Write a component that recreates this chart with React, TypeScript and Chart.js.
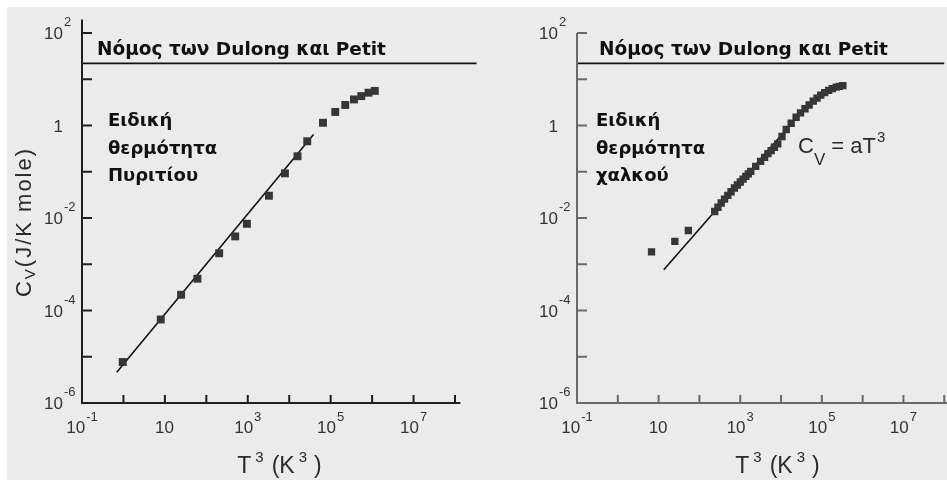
import React, { useEffect, useRef } from "react";
import { Chart, registerables } from "chart.js";

Chart.register(...registerables);

// ---------- data ----------
const siliconT3 = [0.96, 7.96, 24.6, 61, 204, 497, 951, 3240, 7870, 15850, 27200, 65200, 129000, 225000, 365000, 548000, 822000, 1160000];
const siliconCv = [7.7e-6, 6.4e-5, 2.19e-4, 4.87e-4, 1.73e-3, 4.0e-3, 7.5e-3, 0.0303, 0.0923, 0.216, 0.456, 1.145, 1.96, 2.78, 3.66, 4.32, 5.12, 5.6];
const siliconFitT3 = [0.69, 38600];
const siliconFitCv = [4.6e-6, 0.64];

const copperT3 = [6.7, 25, 53.6, 237, 284, 342, 413, 497, 596, 719, 851, 1004, 1175, 1374, 1578, 1812, 2393, 3162, 3953, 4775, 5730, 6890, 8320, 10570, 13430, 17740, 23440, 30060, 38640, 48870, 61660, 76200, 94000, 117500, 146900, 180300, 225000, 270400, 327000];
const copperCv = [1.85e-3, 3.12e-3, 5.36e-3, 0.0138, 0.0171, 0.0211, 0.0255, 0.0308, 0.037, 0.0446, 0.0517, 0.0601, 0.0691, 0.0795, 0.09, 0.102, 0.131, 0.168, 0.205, 0.247, 0.287, 0.338, 0.401, 0.577, 0.819, 1.116, 1.51, 1.87, 2.3, 2.78, 3.37, 3.91, 4.54, 5.12, 5.74, 6.25, 6.78, 7.02, 7.26];
const copperFitT3 = [13.4, 15600];
const copperFitCv = [7.6e-4, 0.95];

const dulongPetitCv = 22;

const xTickValues = [1, 10, 100, 1e3, 1e4, 1e5, 1e6, 1e7, 1e8];
const xLabelValues = [0.1, 10, 1e3, 1e5, 1e7];
const xLabelBases = ["10", "10", "10", "10", "10"];
const xLabelExps = ["-1", "", "3", "5", "7"];
const yTickValues = [1e2, 1e1, 1, 1e-1, 1e-2, 1e-3, 1e-4, 1e-5];
const yLabelValues = [1e2, 1, 1e-2, 1e-4, 1e-6];
const yLabelBases = ["10", "1", "10", "10", "10"];
const yLabelExps = ["2", "", "-2", "-4", "-6"];

const headingText = "Νόμος των Dulong και Petit";
const siliconLabel = ["Ειδική", "θερμότητα", "Πυριτίου"];
const copperLabel = ["Ειδική", "θερμότητα", "χαλκού"];

const FONT = '"Liberation Sans", Arial, Helvetica, sans-serif';
const BOLD_FONT = '"DejaVu Sans", "Liberation Sans", sans-serif';
const TOP = 7;

type Panel = {
  pageLeft: number;
  width: number;
  padLeft: number;
  padRight: number;
  xMax: number;
  axisColor: string;
  axisTop: number;
  axisEnd: number;
  dulongEnd: number;
  t3: number[];
  cv: number[];
  fitT3: number[];
  fitCv: number[];
  markerRadius: number;
  labelLines: string[];
  labelX: number;
  headingX: number;
  xTitleCenter: number;
  yTitle: boolean;
  formula: boolean;
};

const panels: Panel[] = [
  {
    pageLeft: 7, width: 473, padLeft: 75, padRight: 25, xMax: 1e8,
    axisColor: "#1e1e1e", axisTop: Math.pow(10, 2.29), axisEnd: Math.pow(10, 8.13), dulongEnd: Math.pow(10, 8.52),
    t3: siliconT3, cv: siliconCv, fitT3: siliconFitT3, fitCv: siliconFitCv, markerRadius: 5.6,
    labelLines: siliconLabel, labelX: 108, headingX: 97, xTitleCenter: 279.5, yTitle: true, formula: false,
  },
  {
    pageLeft: 480, width: 467, padLeft: 97, padRight: 0, xMax: Math.pow(10, 7.94),
    axisColor: "#6a6a6a", axisTop: 100, axisEnd: Math.pow(10, 8.5), dulongEnd: 1e8,
    t3: copperT3, cv: copperCv, fitT3: copperFitT3, fitCv: copperFitCv, markerRadius: 5.2,
    labelLines: copperLabel, labelX: 596, headingX: 599, xTitleCenter: 777.5, yTitle: false, formula: true,
  },
];

type Piece = { t: string; font: string; dy: number; gap: number };

function drawPieces(ctx: CanvasRenderingContext2D, pieces: Piece[], startX: number, baseY: number) {
  let x = startX;
  for (const p of pieces) {
    x += p.gap;
    ctx.font = p.font;
    ctx.fillText(p.t, x, baseY + p.dy);
    x += ctx.measureText(p.t).width;
  }
  return x;
}

function piecesWidth(ctx: CanvasRenderingContext2D, pieces: Piece[]) {
  let w = 0;
  for (const p of pieces) {
    ctx.font = p.font;
    w += p.gap + ctx.measureText(p.t).width;
  }
  return w;
}

function makePlugin(p: Panel) {
  return {
    id: "panelDecor",
    afterDraw(chart: any) {
      const ctx: CanvasRenderingContext2D = chart.ctx;
      const xs = chart.scales.x;
      const ys = chart.scales.y;
      const X = (px: number) => px - p.pageLeft;
      const Y = (py: number) => py - TOP;
      ctx.save();
      // axes
      const x0 = xs.getPixelForValue(0.1);
      const y0 = ys.getPixelForValue(1e-6);
      ctx.strokeStyle = p.axisColor;
      ctx.lineWidth = 2;
      ctx.lineCap = "butt";
      ctx.beginPath();
      ctx.moveTo(x0, ys.getPixelForValue(p.axisTop));
      ctx.lineTo(x0, y0);
      ctx.lineTo(xs.getPixelForValue(p.axisEnd), y0);
      ctx.stroke();
      ctx.beginPath();
      for (const v of yTickValues) {
        const y = ys.getPixelForValue(v);
        ctx.moveTo(x0, y);
        ctx.lineTo(x0 + 10, y);
      }
      for (const v of xTickValues) {
        const x = xs.getPixelForValue(v);
        ctx.moveTo(x, y0);
        ctx.lineTo(x, y0 - 8);
      }
      ctx.stroke();

      // tick labels
      ctx.fillStyle = "#333";
      ctx.textBaseline = "alphabetic";
      ctx.textAlign = "left";
      const baseFont = `17px ${FONT}`;
      const expFont = `13px ${FONT}`;
      xLabelValues.forEach((v, i) => {
        const pieces = [
          { t: xLabelBases[i], font: baseFont, dy: 0, gap: 0 },
          { t: xLabelExps[i], font: expFont, dy: -12, gap: 1 },
        ];
        const w = piecesWidth(ctx, pieces);
        drawPieces(ctx, pieces, xs.getPixelForValue(v) - w / 2, Y(433));
      });
      yLabelValues.forEach((v, i) => {
        ctx.font = baseFont;
        const wb = ctx.measureText(yLabelBases[i]).width;
        const by = ys.getPixelForValue(v) + 6;
        const sx = x0 - 19 - wb;
        drawPieces(ctx, [
          { t: yLabelBases[i], font: baseFont, dy: 0, gap: 0 },
          { t: yLabelExps[i], font: expFont, dy: -13, gap: 1 },
        ], sx, by);
      });

      // x title
      const tFont = `23px ${FONT}`;
      const sFont = `15px ${FONT}`;
      const tPieces = [
        { t: "T", font: tFont, dy: 0, gap: 0 },
        { t: "3", font: sFont, dy: -11, gap: 4 },
        { t: "(K", font: tFont, dy: 0, gap: 8 },
        { t: "3", font: sFont, dy: -11, gap: 4 },
        { t: ")", font: tFont, dy: 0, gap: 7 },
      ];
      ctx.fillStyle = "#2a2a2a";
      const tw = piecesWidth(ctx, tPieces);
      drawPieces(ctx, tPieces, X(p.xTitleCenter) - tw / 2, Y(473));

      // y title
      if (p.yTitle) {
        ctx.save();
        ctx.translate(X(31), Y(222));
        ctx.rotate(-Math.PI / 2);
        (ctx as any).letterSpacing = "2px";
        const yPieces = [
          { t: "C", font: `22px ${FONT}`, dy: 0, gap: 0 },
          { t: "V", font: `15px ${FONT}`, dy: 4, gap: 0 },
          { t: "(J/K mole)", font: `22px ${FONT}`, dy: 0, gap: 0 },
        ];
        const yw = piecesWidth(ctx, yPieces);
        drawPieces(ctx, yPieces, -yw / 2, 0);
        ctx.restore();
      }

      // heading
      ctx.fillStyle = "#111";
      ctx.font = `bold 18.5px ${BOLD_FONT}`;
      ctx.fillText(headingText, X(p.headingX), Y(55));
      // material label
      ctx.font = `bold 18px ${BOLD_FONT}`;
      const bases = [126, 154, 181];
      p.labelLines.forEach((s, i) => {
        ctx.fillText(s, X(p.labelX), Y(bases[i]));
      });

      // formula
      if (p.formula) {
        ctx.fillStyle = "#2a2a2a";
        drawPieces(ctx, [
          { t: "C", font: `22px ${FONT}`, dy: 0, gap: 0 },
          { t: "V", font: `17px ${FONT}`, dy: 12, gap: 0 },
          { t: " = aT", font: `22px ${FONT}`, dy: 0, gap: 0 },
          { t: "3", font: `15px ${FONT}`, dy: -11, gap: 1 },
        ], X(798), Y(153));
      }
      ctx.restore();
    },
  };
}

function PanelChart({ p }: { p: Panel }) {
  const ref = useRef<HTMLCanvasElement>(null);
  useEffect(() => {
    if (!ref.current) return;
    const points = p.t3.map((x, i) => ({ x, y: p.cv[i] }));
    const fit = p.fitT3.map((x, i) => ({ x, y: p.fitCv[i] }));
    const dulong = [{ x: 0.1, y: dulongPetitCv }, { x: p.dulongEnd, y: dulongPetitCv }];
    const chart = new Chart(ref.current, {
      type: "scatter",
      data: {
        datasets: [
          {
            data: points,
            pointStyle: "rect",
            pointRadius: p.markerRadius,
            pointBackgroundColor: "#363636",
            pointBorderWidth: 0,
            showLine: false,
          },
          {
            data: fit,
            showLine: true,
            borderColor: "#111",
            borderWidth: 1.6,
            pointRadius: 0,
          },
          {
            data: dulong,
            showLine: true,
            borderColor: "#111",
            borderWidth: 1.8,
            pointRadius: 0,
            clip: false,
          },
        ],
      } as any,
      options: {
        animation: false,
        responsive: false,
        events: [],
        layout: { padding: { left: p.padLeft, right: p.padRight, top: 26, bottom: 77 } },
        plugins: { legend: { display: false }, tooltip: { enabled: false } },
        scales: {
          x: { type: "logarithmic", min: 0.1, max: p.xMax, display: false },
          y: { type: "logarithmic", min: 1e-6, max: 100, display: false },
        },
      } as any,
      plugins: [makePlugin(p)],
    });
    return () => chart.destroy();
  }, [p]);
  return (
    <canvas
      ref={ref}
      width={p.width}
      height={473}
      style={{ position: "absolute", left: p.pageLeft - 7, top: 0, width: p.width, height: 473 }}
    />
  );
}

export default function App() {
  return (
    <div
      style={{
        position: "fixed",
        left: 7,
        top: TOP,
        width: 940,
        height: 473,
        background: "#ebebeb",
        overflow: "hidden",
      }}
    >
      {panels.map((p, i) => (
        <PanelChart key={i} p={p} />
      ))}
    </div>
  );
}
